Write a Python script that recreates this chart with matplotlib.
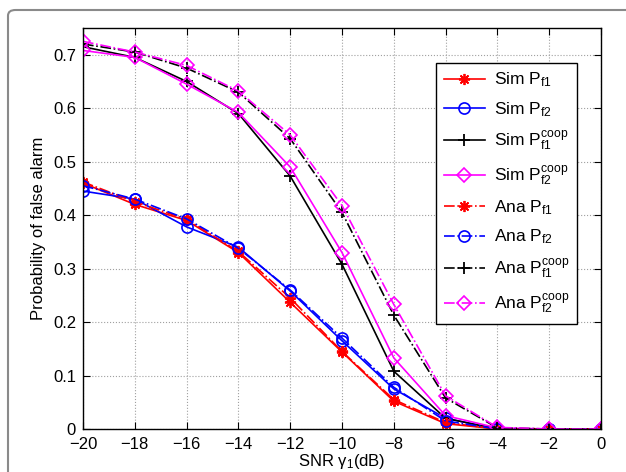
import matplotlib
matplotlib.use("Agg")
from matplotlib import pyplot as plt
from matplotlib.patches import FancyBboxPatch

plt.rcParams['font.family'] = ['Liberation Sans', 'DejaVu Sans']
plt.rcParams['mathtext.fontset'] = 'custom'
plt.rcParams['mathtext.rm'] = 'Liberation Sans'
plt.rcParams['mathtext.it'] = 'Liberation Sans:italic'

snr = [-20, -18, -16, -14, -12, -10, -8, -6, -4, -2, 0]

sim_pf1 = [0.460, 0.420, 0.390, 0.330, 0.237, 0.144, 0.052, 0.010, 0.0, 0.0, 0.0]
sim_pf2 = [0.445, 0.430, 0.378, 0.340, 0.258, 0.165, 0.075, 0.020, 0.0, 0.0, 0.0]
sim_pf1_coop = [0.715, 0.695, 0.650, 0.590, 0.473, 0.308, 0.108, 0.020, 0.0, 0.0, 0.0]
sim_pf2_coop = [0.708, 0.695, 0.645, 0.592, 0.490, 0.330, 0.133, 0.025, 0.002, 0.0, 0.0]
ana_pf1 = [0.462, 0.425, 0.392, 0.332, 0.245, 0.145, 0.055, 0.012, 0.0, 0.0, 0.0]
ana_pf2 = [0.455, 0.430, 0.393, 0.338, 0.260, 0.170, 0.078, 0.015, 0.0, 0.0, 0.0]
ana_pf1_coop = [0.720, 0.705, 0.675, 0.630, 0.543, 0.405, 0.213, 0.058, 0.002, 0.0, 0.0]
ana_pf2_coop = [0.725, 0.705, 0.680, 0.632, 0.550, 0.418, 0.233, 0.062, 0.003, 0.0, 0.0]

labels = ['Sim P$_{\\rm f1}$', 'Sim P$_{\\rm f2}$',
          'Sim P$^{\\rm coop}_{\\rm f1}$', 'Sim P$^{\\rm coop}_{\\rm f2}$',
          'Ana P$_{\\rm f1}$', 'Ana P$_{\\rm f2}$',
          'Ana P$^{\\rm coop}_{\\rm f1}$', 'Ana P$^{\\rm coop}_{\\rm f2}$']

fig = plt.figure(figsize=(6.26, 4.72), dpi=100)
# rounded frame from the screenshot
fig.patches.append(FancyBboxPatch((8 / 626, -0.2), 1.2, 1 - 10 / 472 + 0.2,
                                  boxstyle="round,pad=0,rounding_size=0.012",
                                  transform=fig.transFigure, fill=False,
                                  edgecolor='#8a8a8a', lw=1.5))
ax = fig.add_axes([83 / 626, 43 / 472, 518 / 626, 401 / 472])

star = (8, 2, 0)
ax.plot(snr, sim_pf1, '-', color='red', marker=star, ms=8, mew=1.3, lw=1.2, label=labels[0])
ax.plot(snr, sim_pf2, '-', color='blue', marker='o', ms=8, mfc='none', mew=1.2, lw=1.2, label=labels[1])
ax.plot(snr, sim_pf1_coop, '-', color='black', marker='+', ms=9, mew=1.3, lw=1.2, label=labels[2])
ax.plot(snr, sim_pf2_coop, '-', color='magenta', marker='D', ms=7, mfc='none', mew=1.2, lw=1.2, label=labels[3])
ax.plot(snr, ana_pf1, '-.', color='red', marker=star, ms=8, mew=1.3, lw=1.2, label=labels[4])
ax.plot(snr, ana_pf2, '-.', color='blue', marker='o', ms=8, mfc='none', mew=1.2, lw=1.2, label=labels[5])
ax.plot(snr, ana_pf1_coop, '-.', color='black', marker='+', ms=9, mew=1.3, lw=1.2, label=labels[6])
ax.plot(snr, ana_pf2_coop, '-.', color='magenta', marker='D', ms=7, mfc='none', mew=1.2, lw=1.2, label=labels[7])

ax.set_xlim(-20, 0)
ax.set_ylim(0, 0.75)
ax.set_xticks(range(-20, 1, 2))
ax.set_yticks([0, 0.1, 0.2, 0.3, 0.4, 0.5, 0.6, 0.7])
ax.set_xticklabels(['\u2212' + str(-v) if v < 0 else str(v) for v in range(-20, 1, 2)])
ax.set_yticklabels(['0', '0.1', '0.2', '0.3', '0.4', '0.5', '0.6', '0.7'])
ax.tick_params(direction='in', top=True, right=True, labelsize=12, length=5)
ax.tick_params(axis='x', pad=6)
ax.tick_params(axis='y', pad=5)
ax.grid(True, linestyle=':', color='#a0a0a0', lw=0.8)
for s in ax.spines.values():
    s.set_linewidth(1.0)

ax.set_xlabel('SNR γ$_1$(dB)', fontsize=12, labelpad=0)
ax.set_ylabel('Probability of false alarm', fontsize=12, labelpad=5)

leg = ax.legend(loc='upper right', bbox_to_anchor=(0.954, 0.913), borderaxespad=0,
                fontsize=12.5, fancybox=False, framealpha=1, edgecolor='black',
                handlelength=2.4, handletextpad=0.5, labelspacing=0.6, borderpad=0.45)
leg.get_frame().set_linewidth(1.0)

plt.savefig('out.png', dpi=100)
